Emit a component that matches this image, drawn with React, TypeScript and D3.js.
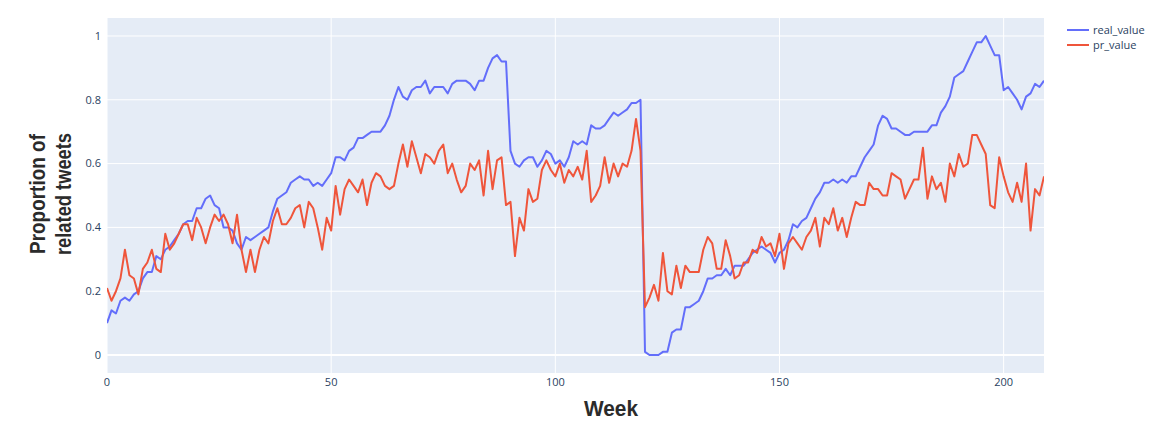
import React from 'react';
import * as d3 from 'd3';

// weekly proportions, week 0..209
const realValue = [
  0.10, 0.14, 0.13, 0.17, 0.18, 0.17, 0.19, 0.20, 0.24, 0.26,
  0.26, 0.31, 0.30, 0.33, 0.34, 0.36, 0.38, 0.41, 0.42, 0.42,
  0.46, 0.46, 0.49, 0.50, 0.47, 0.46, 0.40, 0.40, 0.39, 0.35,
  0.33, 0.37, 0.36, 0.37, 0.38, 0.39, 0.40, 0.45, 0.49, 0.50,
  0.51, 0.54, 0.55, 0.56, 0.55, 0.55, 0.53, 0.54, 0.53, 0.55,
  0.57, 0.62, 0.62, 0.61, 0.64, 0.65, 0.68, 0.68, 0.69, 0.70,
  0.70, 0.70, 0.72, 0.75, 0.80, 0.84, 0.81, 0.80, 0.83, 0.84,
  0.84, 0.86, 0.82, 0.84, 0.84, 0.84, 0.82, 0.85, 0.86, 0.86,
  0.86, 0.85, 0.83, 0.86, 0.86, 0.90, 0.93, 0.94, 0.92, 0.92,
  0.64, 0.60, 0.59, 0.61, 0.62, 0.62, 0.59, 0.61, 0.64, 0.63,
  0.60, 0.61, 0.59, 0.62, 0.67, 0.66, 0.67, 0.66, 0.72, 0.71,
  0.71, 0.72, 0.74, 0.76, 0.75, 0.76, 0.77, 0.79, 0.79, 0.80,
  0.01, 0.00, 0.00, 0.00, 0.01, 0.01, 0.07, 0.08, 0.08, 0.15,
  0.15, 0.16, 0.17, 0.20, 0.24, 0.24, 0.25, 0.25, 0.27, 0.25,
  0.28, 0.28, 0.28, 0.30, 0.32, 0.33, 0.34, 0.33, 0.32, 0.29,
  0.32, 0.33, 0.36, 0.41, 0.40, 0.42, 0.43, 0.46, 0.49, 0.51,
  0.54, 0.54, 0.55, 0.54, 0.55, 0.54, 0.56, 0.56, 0.59, 0.62,
  0.64, 0.66, 0.72, 0.75, 0.74, 0.71, 0.71, 0.70, 0.69, 0.69,
  0.70, 0.70, 0.70, 0.70, 0.72, 0.72, 0.76, 0.78, 0.81, 0.87,
  0.88, 0.89, 0.92, 0.95, 0.98, 0.98, 1.00, 0.97, 0.94, 0.94,
  0.83, 0.84, 0.82, 0.80, 0.77, 0.81, 0.82, 0.85, 0.84, 0.86,
];

const prValue = [
  0.21, 0.17, 0.20, 0.24, 0.33, 0.25, 0.24, 0.19, 0.27, 0.29,
  0.33, 0.27, 0.26, 0.38, 0.33, 0.35, 0.38, 0.41, 0.41, 0.36,
  0.43, 0.40, 0.35, 0.40, 0.44, 0.42, 0.44, 0.41, 0.35, 0.44,
  0.33, 0.26, 0.33, 0.26, 0.33, 0.37, 0.35, 0.42, 0.46, 0.41,
  0.41, 0.43, 0.46, 0.47, 0.40, 0.48, 0.46, 0.40, 0.33, 0.43,
  0.39, 0.53, 0.44, 0.52, 0.55, 0.53, 0.51, 0.55, 0.47, 0.54,
  0.57, 0.56, 0.53, 0.52, 0.53, 0.60, 0.66, 0.59, 0.67, 0.62,
  0.57, 0.63, 0.62, 0.60, 0.64, 0.66, 0.57, 0.60, 0.55, 0.51,
  0.53, 0.60, 0.58, 0.61, 0.50, 0.64, 0.52, 0.61, 0.62, 0.47,
  0.48, 0.31, 0.43, 0.39, 0.52, 0.48, 0.49, 0.58, 0.61, 0.58,
  0.56, 0.60, 0.54, 0.58, 0.56, 0.59, 0.55, 0.64, 0.48, 0.50,
  0.53, 0.62, 0.54, 0.60, 0.56, 0.60, 0.59, 0.64, 0.74, 0.64,
  0.15, 0.18, 0.22, 0.17, 0.32, 0.20, 0.19, 0.28, 0.21, 0.28,
  0.26, 0.26, 0.26, 0.33, 0.37, 0.35, 0.27, 0.27, 0.36, 0.31,
  0.24, 0.25, 0.29, 0.29, 0.33, 0.32, 0.37, 0.34, 0.35, 0.31,
  0.38, 0.27, 0.35, 0.37, 0.35, 0.33, 0.37, 0.39, 0.43, 0.34,
  0.43, 0.41, 0.46, 0.39, 0.43, 0.37, 0.43, 0.48, 0.47, 0.47,
  0.54, 0.52, 0.52, 0.50, 0.50, 0.57, 0.56, 0.55, 0.49, 0.52,
  0.55, 0.55, 0.65, 0.49, 0.56, 0.52, 0.54, 0.48, 0.60, 0.56,
  0.63, 0.59, 0.60, 0.69, 0.69, 0.66, 0.63, 0.47, 0.46, 0.62,
  0.56, 0.51, 0.48, 0.54, 0.48, 0.60, 0.39, 0.52, 0.50, 0.56,
];

const xTicks = [0, 50, 100, 150, 200];
const yTicks = [0, 0.2, 0.4, 0.6, 0.8, 1];

const series = [
  { name: 'real_value', values: realValue, color: '#636efa' },
  { name: 'pr_value', values: prValue, color: '#EF553B' },
];

const W = 1158;
const H = 432;
const margin = { top: 18, right: 114, bottom: 59, left: 107 };
const font = '"Open Sans", "Liberation Sans", Arial, sans-serif';
const titleFont = '"Liberation Sans", Arial, Helvetica, sans-serif';

export default function App() {
  const innerW = W - margin.left - margin.right;
  const innerH = H - margin.top - margin.bottom;

  const x = d3.scaleLinear().domain([0, realValue.length - 1]).range([0, innerW]);
  const pad = 0.0564;
  const y = d3.scaleLinear().domain([-pad, 1 + pad]).range([innerH, 0]);

  const line = d3.line<number>()
    .x((_, i) => x(i))
    .y((d) => y(d));

  return (
    <svg
      width={W}
      height={H}
      style={{ position: 'absolute', left: 0, top: 0, background: '#fff' }}
    >
      <g transform={`translate(${margin.left},${margin.top})`}>
        <rect width={innerW} height={innerH} fill="#E5ECF6" />
        {xTicks.map((t) => (
          <line key={'gx' + t} x1={x(t)} x2={x(t)} y1={0} y2={innerH} stroke="#fff" strokeWidth={1} />
        ))}
        {yTicks.map((t) => (
          <line key={'gy' + t} x1={0} x2={innerW} y1={y(t)} y2={y(t)} stroke="#fff" strokeWidth={t === 0 ? 2 : 1} />
        ))}
        <defs>
          <clipPath id="plotclip">
            <rect width={innerW} height={innerH} />
          </clipPath>
        </defs>
        <g clipPath="url(#plotclip)">
          {series.map((s) => (
            <path
              key={s.name}
              d={line(s.values) || ''}
              fill="none"
              stroke={s.color}
              strokeWidth={2}
              strokeLinejoin="round"
            />
          ))}
        </g>
        {xTicks.map((t) => (
          <text
            key={'tx' + t}
            x={x(t)}
            y={innerH + 13}
            textAnchor="middle"
            fontFamily={font}
            fontSize={11}
            fill="#2a3f5f"
          >
            {t}
          </text>
        ))}
        {yTicks.map((t) => (
          <text
            key={'ty' + t}
            x={-6}
            y={y(t)}
            dy="0.35em"
            textAnchor="end"
            fontFamily={font}
            fontSize={11}
            fill="#2a3f5f"
          >
            {d3.format('~g')(t)}
          </text>
        ))}
      </g>

      <text
        x={611}
        y={416}
        textAnchor="middle"
        fontFamily={titleFont}
        fontWeight={700}
        fontSize={22}
        textLength={54}
        lengthAdjust="spacingAndGlyphs"
        fill="#2b2b2b"
      >
        Week
      </text>
      <g transform="translate(0,194) rotate(-90)">
        <text
          x={0}
          y={45}
          textAnchor="middle"
          fontFamily={titleFont}
          fontWeight={700}
          fontSize={22}
          textLength={120}
          lengthAdjust="spacingAndGlyphs"
          fill="#2b2b2b"
        >
          Proportion of
        </text>
        <text
          x={0}
          y={71}
          textAnchor="middle"
          fontFamily={titleFont}
          fontWeight={700}
          fontSize={22}
          textLength={122}
          lengthAdjust="spacingAndGlyphs"
          fill="#2b2b2b"
        >
          related tweets
        </text>
      </g>

      {series.map((s, i) => (
        <g key={'lg' + s.name} transform={`translate(1067,${30 + i * 15})`}>
          <line x1={0} x2={22} y1={0} y2={0} stroke={s.color} strokeWidth={2} />
          <text x={26} y={0} dy="0.35em" fontFamily={font} fontSize={11} fill="#2a3f5f">
            {s.name}
          </text>
        </g>
      ))}
    </svg>
  );
}
